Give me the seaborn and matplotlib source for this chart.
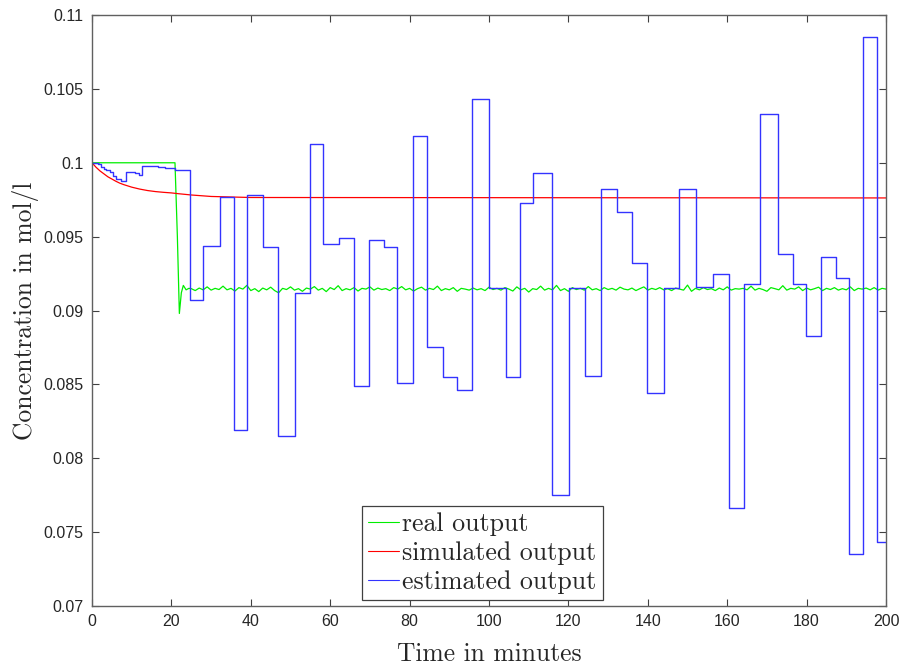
import numpy as np
import pandas as pd
import seaborn as sns
import matplotlib.pyplot as plt

sns.set_theme(style="white")

# estimated output: step changes (time in minutes, value held until next time)
est_t = [0, 1.5, 2.3, 3.0, 3.5, 4.5, 5.3, 6.0, 7.3, 8.6, 9.7, 10.8, 11.8,
         12.7, 14.5, 16.5, 18.5, 20.9, 24.7, 28.0, 32.2, 35.8, 39.0, 43.0,
         46.9, 51.1, 54.9, 58.3, 62.2, 66.0, 69.8, 73.6, 76.9, 80.8, 84.3,
         88.3, 92.0, 95.8, 100.1, 104.2, 107.8, 111.2, 115.8, 120.2, 124.3,
         128.2, 132.3, 136.1, 139.9, 144.1, 147.9, 152.1, 156.3, 160.5, 164.2,
         168.3, 172.7, 176.5, 179.8, 183.6, 187.4, 190.8, 194.3, 197.8, 200]
est_v = [0.1000, 0.0999, 0.0997, 0.0996, 0.0995, 0.0994, 0.0991, 0.0989,
         0.0988, 0.0994, 0.09935, 0.0993, 0.0992, 0.0998, 0.09975, 0.0997,
         0.09965, 0.0995, 0.0907, 0.0944, 0.0977, 0.0819, 0.0978, 0.0943,
         0.0815, 0.0912, 0.1013, 0.0945, 0.0949, 0.0849, 0.0948, 0.0943,
         0.0851, 0.1018, 0.0875, 0.0855, 0.0846, 0.1043, 0.0915, 0.0855,
         0.0973, 0.0993, 0.0775, 0.0915, 0.0856, 0.0982, 0.0967, 0.0932,
         0.0844, 0.0915, 0.0982, 0.0916, 0.0925, 0.0766, 0.0918, 0.1033,
         0.0938, 0.0918, 0.0883, 0.0936, 0.0922, 0.0735, 0.1085, 0.0743,
         0.0743]

# simulated output
sim_t = [0, 1, 2, 3, 4, 5, 6, 7, 8, 10, 12, 14, 16, 18, 20, 22, 25, 30, 40, 200]
sim_v = [0.1000, 0.09970, 0.09945, 0.09925, 0.09905, 0.09890, 0.09875,
         0.09862, 0.09852, 0.09835, 0.09822, 0.09812, 0.09805, 0.09800,
         0.09796, 0.09790, 0.09782, 0.09772, 0.09765, 0.09762]

# real output
real_t = [0, 20.9, 21.5, 22.0, 22.5, 23.0, 23.7, 24.4] + list(range(25, 201))
real_v = [0.1000, 0.1000, 0.0950, 0.0898, 0.0912, 0.0917, 0.0914, 0.0915,
          0.09148, 0.09135, 0.09152, 0.09140, 0.09160, 0.09138, 0.09150, 0.09142, 0.09165, 0.09140,
          0.09150, 0.09132, 0.09155, 0.09145, 0.09170, 0.09135, 0.09148, 0.09128, 0.09152, 0.09140,
          0.09158, 0.09135, 0.09120, 0.09150, 0.09142, 0.09160, 0.09138, 0.09148, 0.09130, 0.09152,
          0.09145, 0.09162, 0.09138, 0.09150, 0.09128, 0.09155, 0.09142, 0.09168, 0.09135, 0.09148,
          0.09140, 0.09155, 0.09132, 0.09150, 0.09145, 0.09160, 0.09138, 0.09152, 0.09142, 0.09148,
          0.09135, 0.09155, 0.09145, 0.09162, 0.09140, 0.09150, 0.09132, 0.09148, 0.09158, 0.09138,
          0.09150, 0.09142, 0.09165, 0.09135, 0.09148, 0.09140, 0.09155, 0.09130, 0.09150, 0.09145,
          0.09138, 0.09152, 0.09140, 0.09148, 0.09135, 0.09158, 0.09142, 0.09150, 0.09138, 0.09155,
          0.09145, 0.09132, 0.09160, 0.09140, 0.09150, 0.09125, 0.09148, 0.09142, 0.09165, 0.09138,
          0.09150, 0.09140, 0.09170, 0.09135, 0.09148, 0.09130, 0.09155, 0.09142, 0.09150, 0.09138,
          0.09162, 0.09140, 0.09148, 0.09135, 0.09155, 0.09142, 0.09150, 0.09138, 0.09158, 0.09145,
          0.09140, 0.09152, 0.09135, 0.09148, 0.09160, 0.09138, 0.09150, 0.09142, 0.09155, 0.09140,
          0.09148, 0.09135, 0.09152, 0.09145, 0.09138, 0.09172, 0.09130, 0.09150, 0.09140, 0.09155,
          0.09142, 0.09148, 0.09135, 0.09152, 0.09140, 0.09160, 0.09138, 0.09148, 0.09145, 0.09150,
          0.09140, 0.09165, 0.09138, 0.09150, 0.09142, 0.09130, 0.09155, 0.09148, 0.09140, 0.09168,
          0.09138, 0.09150, 0.09145, 0.09160, 0.09135, 0.09152, 0.09140, 0.09148, 0.09158, 0.09135,
          0.09150, 0.09142, 0.09155, 0.09138, 0.09148, 0.09140, 0.09160, 0.09135, 0.09150, 0.09145,
          0.09152, 0.09140, 0.09155, 0.09138, 0.09150, 0.09145]

yticks = [0.07, 0.075, 0.08, 0.085, 0.09, 0.095, 0.1, 0.105, 0.11]
ytick_labels = ["0.07", "0.075", "0.08", "0.085", "0.09", "0.095", "0.1", "0.105", "0.11"]
xticks = [0, 20, 40, 60, 80, 100, 120, 140, 160, 180, 200]

real_df = pd.DataFrame({"t": real_t, "v": real_v})
sim_df = pd.DataFrame({"t": sim_t, "v": sim_v})
est_df = pd.DataFrame({"t": est_t, "v": est_v})

fig = plt.figure(figsize=(9.03, 6.68), dpi=100)
ax = fig.add_axes([0.1019, 0.0928, 0.8793, 0.8847])

sns.lineplot(data=real_df, x="t", y="v", ax=ax, color="#00ee00", lw=0.9,
             estimator=None, sort=False, label="real output")
sns.lineplot(data=sim_df, x="t", y="v", ax=ax, color="#ff0000", lw=0.9,
             estimator=None, sort=False, label="simulated output")
sns.lineplot(data=est_df, x="t", y="v", ax=ax, color="#3333ff", lw=1.0,
             estimator=None, sort=False, drawstyle="steps-post",
             label="estimated output")

ax.set_xlim(0, 200)
ax.set_ylim(0.07, 0.11)
ax.set_xticks(xticks)
ax.set_xticklabels([str(x) for x in xticks])
ax.set_yticks(yticks)
ax.set_yticklabels(ytick_labels)

for lab in ax.get_xticklabels() + ax.get_yticklabels():
    lab.set_family("Liberation Sans")
    lab.set_fontsize(11.5)
    lab.set_color("#262626")

ax.tick_params(direction="in", length=5, width=0.8, color="#404040",
               top=True, right=True, bottom=True, left=True, pad=6)
for s in ax.spines.values():
    s.set_color("#606060")
    s.set_linewidth(1.0)

ax.set_xlabel("Time in minutes", family="cmr10", fontsize=18.4, labelpad=9)
ax.set_ylabel("Concentration in mol/l", family="cmr10", fontsize=18.4, labelpad=3)

leg = ax.legend(loc="lower left", bbox_to_anchor=(0.340, 0.010),
                prop={"family": "cmr10", "size": 18.6}, fancybox=False,
                framealpha=1, edgecolor="#404040", handlelength=1.2,
                handletextpad=0.1, borderpad=0.25, labelspacing=0.2,
                borderaxespad=0)
leg.get_frame().set_linewidth(0.9)
for line in leg.get_lines():
    line.set_linewidth(0.8)

plt.savefig("out.png", dpi=100)
